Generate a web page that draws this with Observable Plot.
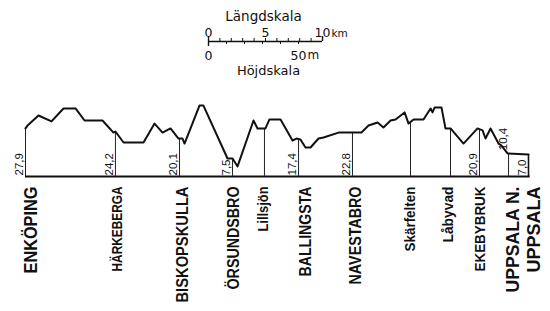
<!DOCTYPE html>
<html>
<head>
<meta charset="utf-8">
<script src="https://cdn.jsdelivr.net/npm/d3@7"></script>
<script src="https://cdn.jsdelivr.net/npm/@observablehq/plot@0.6"></script>
<style>
  html, body { margin: 0; padding: 0; background: #fff; }
  #chart svg { display: block; }
</style>
</head>
<body>
<div id="chart"></div>
<script>
// ---- Data: distance along the line (km) and height (m) ----
const profileKm = [0, 0.18, 1.14, 2.28, 3.33, 4.39, 5.18, 6.75, 7.72, 7.89, 8.60, 10.35, 11.32, 12.02, 12.72, 13.42, 13.77, 13.95, 15.26, 15.61, 17.72, 18.16, 18.60, 20.00, 20.35, 21.05, 21.40, 22.37, 23.42, 23.77, 24.12, 24.56, 25.00, 25.70, 26.14, 27.46, 29.47, 30.09, 30.88, 31.40, 32.02, 32.46, 33.25, 33.60, 34.04, 34.91, 35.53, 35.70, 35.88, 36.49, 36.84, 37.28, 38.42, 39.65, 40.09, 40.35, 40.79, 41.49, 41.75, 42.28, 44.12];
const profileM  = [26.7, 28.3, 33.9, 30.6, 37.8, 37.8, 31.1, 31.1, 24.4, 25.0, 18.9, 18.9, 29.4, 24.4, 26.7, 21.1, 21.1, 18.3, 39.4, 39.4, 10.0, 10.0, 5.6, 31.1, 26.7, 26.7, 31.7, 31.7, 20.0, 21.1, 20.6, 16.1, 16.1, 21.1, 21.7, 24.4, 24.4, 28.3, 30.0, 27.2, 31.1, 31.7, 35.6, 29.4, 31.7, 31.7, 37.8, 35.6, 38.3, 38.3, 26.7, 26.7, 18.3, 26.7, 25.6, 21.1, 26.7, 18.3, 17.2, 12.8, 12.2];

const stationNames  = ["ENKÖPING", "HÄRKEBERGA", "BISKOPSKULLA", "ÖRSUNDSBRO", "Lillsjön", "BALLINGSTA", "NAVESTABRO", "Skärfelten", "Låbyvad", "EKEBYBRUK", "UPPSALA N.", "UPPSALA"];
const stationKm     = [0, 7.89, 13.51, 18.16, 20.96, 23.95, 28.68, 33.77, 37.28, 39.82, 42.37, 44.12];
const stationTopM   = [26.7, 25.0, 21.1, 10.0, 26.7, 20.8, 24.4, 30.3, 26.7, 26.2, 12.8, 12.2];
const stationLabels = ["27,9", "24,2", "20,1", "7,5", null, "17,4", "22,8", null, null, "20,9", "10,4", "7,0"];

// scale bar ticks
const lengthTicksKm = [0, 1, 2, 3, 4, 5, 6, 7, 8, 9, 10];
const lengthLabels  = [0, 5, 10];
const heightTicksM  = [0, 10, 20, 30, 40, 50];
const heightLabels  = [0, 50];

// ---- layout / styling (kept in code) ----
const W = 550, H = 311;
const xRange = [25, 528], yRange = [H, 0];
const xDomain = [0, 44.12], yDomain = [-75, 97.78];
const pxPerKm = (xRange[1] - xRange[0]) / (xDomain[1] - xDomain[0]);
const pxPerM = H / (yDomain[1] - yDomain[0]);
const pxToM = (py) => yDomain[0] + (H - py) / pxPerM;
const pxToKm = (px) => xDomain[0] + (px - xRange[0]) / pxPerKm;

const barStart = pxToKm(208);
const barM = pxToM(41);
const mToKm = (m) => m * pxPerM / pxPerKm; // height scale drawn horizontally

const stations = stationNames.map((name, i) => ({
  name, km: stationKm[i], top: stationTopM[i], label: stationLabels[i]
}));

const nameFont = {
  "ENKÖPING": 19, "HÄRKEBERGA": 14, "BISKOPSKULLA": 17, "ÖRSUNDSBRO": 16, "Lillsjön": 14,
  "BALLINGSTA": 16, "NAVESTABRO": 16, "Skärfelten": 14.5, "Låbyvad": 14.5, "EKEBYBRUK": 15,
  "UPPSALA N.": 19, "UPPSALA": 19
};
const nameLength = {
  "ENKÖPING": 87, "HÄRKEBERGA": 85, "BISKOPSKULLA": 116, "ÖRSUNDSBRO": 103, "Lillsjön": 45,
  "BALLINGSTA": 90, "NAVESTABRO": 98, "Skärfelten": 65, "Låbyvad": 56, "EKEBYBRUK": 85,
  "UPPSALA N.": 106, "UPPSALA": 86
};
const nameDx = {
  "ENKÖPING": 5, "HÄRKEBERGA": 2, "BISKOPSKULLA": 3, "ÖRSUNDSBRO": 1, "Lillsjön": -1,
  "BALLINGSTA": 7, "NAVESTABRO": 3, "Skärfelten": 0, "Låbyvad": -2, "EKEBYBRUK": 1,
  "UPPSALA N.": 4, "UPPSALA": 5
};
const labelAbove = new Set(["UPPSALA N."]);

const nameFamily = "'Liberation Sans', Arial, sans-serif";
const scaleFamily = "'DejaVu Sans', sans-serif";

const nameMarks = stations.map(s => Plot.text([s], {
  x: "km", y: pxToM(186), text: "name", rotate: -90, textAnchor: "end",
  dx: nameDx[s.name], fontSize: nameFont[s.name], fontWeight: "bold",
  fontFamily: nameFamily, fill: "#111"
}));

const chart = Plot.plot({
  width: W, height: H,
  marginTop: 0, marginBottom: 0, marginLeft: 0, marginRight: 0,
  x: {domain: xDomain, range: xRange, axis: null},
  y: {domain: yDomain, range: yRange, axis: null},
  style: {background: "#fff"},
  marks: [
    Plot.ruleY([0], {x1: xDomain[0], x2: xDomain[1] + 0.15, stroke: "#111", strokeWidth: 2.2}),
    Plot.ruleX(stations, {x: "km", y1: 0, y2: "top", stroke: "#222", strokeWidth: 1}),
    Plot.line(profileKm.map((k, i) => ({k, m: profileM[i]})), {x: "k", y: "m", stroke: "#111", strokeWidth: 2, curve: "linear"}),
    Plot.ruleX([xDomain[1]], {y1: 0, y2: profileM[profileM.length - 1], stroke: "#111", strokeWidth: 1.6}),
    Plot.text(stations.filter(s => s.label && !labelAbove.has(s.name)), {
      x: "km", y: pxToM(175), text: "label", rotate: -90, textAnchor: "start",
      dx: -6.5, fontSize: 11.5, fontFamily: "'Liberation Sans', Arial, sans-serif", fill: "#111"
    }),
    Plot.text(stations.filter(s => s.label && labelAbove.has(s.name)), {
      x: "km", y: d => d.top + 1.8, text: "label", rotate: -90, textAnchor: "start",
      dx: -5, fontSize: 11.5, fontFamily: "'Liberation Sans', Arial, sans-serif", fill: "#111"
    }),
    ...nameMarks,
    // ---- scale bar ----
    Plot.ruleY([barM], {x1: barStart, x2: barStart + 10, stroke: "#111", strokeWidth: 1.4}),
    Plot.ruleX(lengthTicksKm, {x: d => barStart + d, y1: barM, y2: barM + 3 / pxPerM, stroke: "#111", strokeWidth: 1}),
    Plot.ruleX([0, 10], {x: d => barStart + d, y1: barM, y2: barM + 5 / pxPerM, stroke: "#111", strokeWidth: 1.4}),
    Plot.ruleX(heightTicksM, {x: d => barStart + mToKm(d), y1: barM, y2: barM - 3 / pxPerM, stroke: "#111", strokeWidth: 1}),
    Plot.ruleX([0], {x: d => barStart + mToKm(d), y1: barM, y2: barM - 5 / pxPerM, stroke: "#111", strokeWidth: 1.4}),
    Plot.text(lengthLabels, {x: d => barStart + d, y: pxToM(32), text: d => String(d), fontSize: 12.5, fontFamily: scaleFamily, fill: "#111"}),
    Plot.text(["km"], {x: barStart + 10, y: pxToM(33), dx: 9, textAnchor: "start", fontSize: 10.5, fontFamily: scaleFamily, fill: "#111"}),
    Plot.text(heightLabels, {x: d => barStart + mToKm(d), y: pxToM(55), text: d => String(d), fontSize: 12.5, fontFamily: scaleFamily, fill: "#111"}),
    Plot.text(["m"], {x: barStart + mToKm(50), y: pxToM(55), dx: 9, textAnchor: "start", fontSize: 12, fontFamily: scaleFamily, fill: "#111"}),
    Plot.text(["Längdskala"], {x: pxToKm(263), y: pxToM(16), fontSize: 13.5, fontFamily: scaleFamily, fill: "#111"}),
    Plot.text(["Höjdskala"], {x: pxToKm(268), y: pxToM(70), fontSize: 13, fontFamily: scaleFamily, fill: "#111"})
  ]
});

// condense the station names to the lengths seen in the reference
d3.select(chart).selectAll("text").each(function () {
  const t = this.textContent;
  if (Object.prototype.hasOwnProperty.call(nameLength, t)) {
    this.setAttribute("textLength", nameLength[t]);
    this.setAttribute("lengthAdjust", "spacingAndGlyphs");
  }
});
document.getElementById("chart").appendChild(chart);
</script>
</body>
</html>
